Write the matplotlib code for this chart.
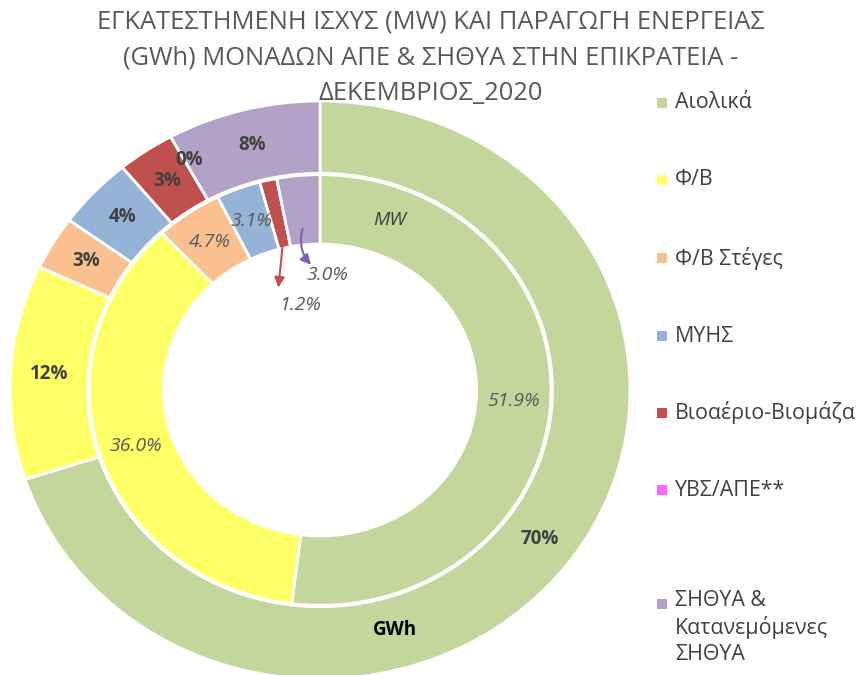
import numpy as np
import matplotlib.pyplot as plt
from matplotlib.patches import Rectangle

plt.rcParams["font.family"] = ["Open Sans", "Noto Sans", "DejaVu Sans"]

# data
categories = ["Αιολικά", "Φ/Β", "Φ/Β Στέγες", "ΜΥΗΣ", "Βιοαέριο-Βιομάζα",
              "ΥΒΣ/ΑΠΕ**", "ΣΗΘΥΑ &\nΚατανεμόμενες\nΣΗΘΥΑ"]
gwh_pct = [70, 12, 3, 4, 3, 0, 8]
mw_pct = [51.9, 36.0, 4.7, 3.1, 1.2, 0.0, 3.0]
colors = ["#C3D69B", "#FFFF66", "#FAC090", "#95B3D7", "#C0504D", "#FF66FF", "#B3A2C7"]

title_lines = ["ΕΓΚΑΤΕΣΤΗΜΕΝΗ ΙΣΧΥΣ (MW) ΚΑΙ ΠΑΡΑΓΩΓΗ ΕΝΕΡΓΕΙΑΣ",
               "(GWh) ΜΟΝΑΔΩΝ ΑΠΕ & ΣΗΘΥΑ ΣΤΗΝ ΕΠΙΚΡΑΤΕΙΑ -",
               "ΔΕΚΕΜΒΡΙΟΣ_2020"]

fig = plt.figure(figsize=(8.62, 6.75), dpi=100)
ax = fig.add_axes([10 / 862, -4 / 675, 620 / 862, 578 / 675])

wedge_kw = dict(edgecolor="white", linewidth=2)
ax.pie(gwh_pct, colors=colors, startangle=90, counterclock=False, radius=1.0,
       wedgeprops=dict(width=0.25, **wedge_kw))
ax.pie(mw_pct, colors=colors, startangle=90, counterclock=False, radius=0.745,
       wedgeprops=dict(width=0.24, **wedge_kw))
ax.set_aspect("auto")
ax.set_xlim(-1, 1)
ax.set_ylim(-1, 1)
ax.axis("off")


def mid_angles(vals):
    vals = np.asarray(vals, dtype=float)
    cum = np.cumsum(vals) - vals / 2
    return np.deg2rad(90 - cum / vals.sum() * 360)


# outer labels (GWh)
for v, a in zip(gwh_pct, mid_angles(gwh_pct)):
    r = 0.875
    dy = 0.03 if v == 0 else 0
    ax.text(r * np.cos(a), r * np.sin(a) + dy, f"{v}%", ha="center", va="center",
            fontsize=13.5, fontweight="bold", color="#404040")

# inner labels (MW)
for i, (v, a) in enumerate(zip(mw_pct, mid_angles(mw_pct))):
    if v == 0 or i >= 4:
        continue
    r = 0.625
    ax.text(r * np.cos(a), r * np.sin(a), f"{v:.1f}%", ha="center", va="center",
            fontsize=14, fontstyle="italic", color="#595959")

# small slices pointed with arrows
ang = mid_angles(mw_pct)
ax.annotate("", xy=(-0.135, 0.345), xytext=(0.53 * np.cos(ang[4]), 0.53 * np.sin(ang[4])),
            arrowprops=dict(arrowstyle="-|>", color="#C0504D", lw=1.5, mutation_scale=15))
ax.text(-0.065, 0.294, f"{mw_pct[4]:.1f}%", ha="center", va="center",
        fontsize=14, fontstyle="italic", color="#595959")
ax.annotate("", xy=(-0.023, 0.426), xytext=(0.57 * np.cos(ang[6]), 0.57 * np.sin(ang[6])),
            arrowprops=dict(arrowstyle="-|>", color="#7F62A8", lw=1.5, mutation_scale=15,
                            connectionstyle="arc3,rad=0.3"))
ax.text(0.023, 0.398, f"{mw_pct[6]:.1f}%", ha="center", va="center",
        fontsize=14, fontstyle="italic", color="#595959")

ax.text(0.226, 0.588, "MW", ha="center", va="center", fontsize=14,
        fontstyle="italic", color="#404040")
ax.text(0.242, -0.830, "GWh", ha="center", va="center", fontsize=13.5,
        fontweight="bold", color="#000000")

for line, y in zip(title_lines, [22, 58, 93]):
    fig.text(0.5, 1 - y / 675, line, ha="center", va="center", fontsize=18.4,
             color="#595959")

# legend
leg_y = [103, 180, 258, 336, 413, 490, 604]
for lab, c, y in zip(categories, colors, leg_y):
    fig.patches.append(Rectangle((657 / 862, 1 - (y + 5) / 675), 10 / 862, 10 / 675,
                                 facecolor=c, edgecolor="none",
                                 transform=fig.transFigure))
    fig.text(675 / 862, 1 - (y - 14) / 675 if "\n" in lab else 1 - y / 675, lab,
             ha="left", va="top" if "\n" in lab else "center",
             fontsize=15.4, color="#404040", linespacing=1.3,
             transform=fig.transFigure)

fig.savefig("out.png", dpi=100)
